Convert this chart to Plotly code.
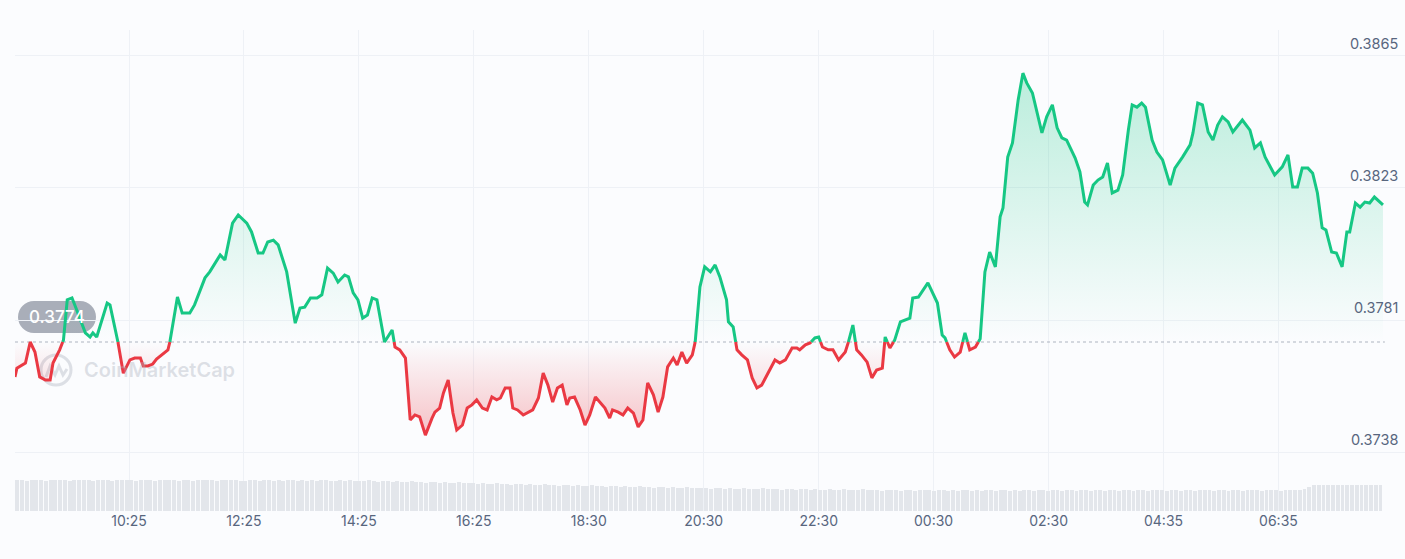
import plotly.graph_objects as go

# ---------------- data ----------------
minutes = [0,2,11,16,21,26,32,37,40,47,51,55,60,65,74,79,82,86,97,100,
           108,114,121,126,132,135,140,145,149,156,161,163,171,176,184,189,200,205,216,221,
           229,235,244,249,256,261,266,272,277,286,295,300,305,311,318,323,329,335,340,347,
           351,356,361,366,371,376,381,389,397,400,405,411,416,421,426,432,439,442,447,451,
           456,461,465,471,476,481,486,492,497,502,507,511,516,521,524,529,535,540,545,551,
           556,561,566,571,576,581,584,589,595,600,605,611,616,621,626,629,635,640,645,651,
           656,661,666,672,677,682,687,693,697,702,707,713,716,721,726,732,737,742,749,751,
           756,760,765,771,776,781,786,793,800,805,811,818,823,826,832,837,842,846,850,856,
           861,867,874,877,882,886,891,897,902,907,913,916,921,926,932,937,942,945,951,961,
           971,976,979,984,989,995,1000,1005,1011,1016,1021,1026,1032,1037,1040,1045,1050,1056,1061,1065,
           1071,1081,1086,1092,1097,1102,1107,1116,1121,1126,1129,1135,1140,1145,1150,1155,1161,1166,1172,1176,
           1181,1186,1190,1197,1202,1208,1216,1221,1229,1237,1240,1245,1250,1256,1261,1266,1271,1277,1282,1292,
           1300,1305,1311,1316,1326,1334,1340,1345,1350,1355,1361,1366,1371,1376,1380,1386,1391,1397,1402,1405,
           1411,1416,1421,1426,1431,1440]

price = [0.37629,0.37657,0.37673,0.37740,0.37708,0.37629,0.37619,0.37619,0.37673,0.37715,
         0.37746,0.37874,0.37880,0.37842,0.37769,0.37756,0.37769,0.37756,0.37864,0.37858,
         0.37746,0.37641,0.37683,0.37689,0.37689,0.37664,0.37664,0.37670,0.37686,0.37702,
         0.37715,0.37740,0.37883,0.37832,0.37832,0.37858,0.37944,0.37963,0.38017,0.38001,
         0.38118,0.38144,0.38118,0.38090,0.38023,0.38023,0.38058,0.38064,0.38049,0.37963,
         0.37800,0.37848,0.37851,0.37880,0.37880,0.37890,0.37975,0.37959,0.37931,0.37953,
         0.37947,0.37896,0.37874,0.37816,0.37826,0.37880,0.37874,0.37740,0.37778,0.37724,
         0.37715,0.37689,0.37492,0.37508,0.37502,0.37444,0.37498,0.37517,0.37530,0.37578,
         0.37619,0.37514,0.37460,0.37476,0.37530,0.37540,0.37556,0.37530,0.37524,0.37565,
         0.37556,0.37562,0.37594,0.37594,0.37530,0.37524,0.37508,0.37517,0.37524,0.37562,
         0.37641,0.37603,0.37549,0.37594,0.37603,0.37540,0.37562,0.37565,0.37524,0.37476,
         0.37508,0.37565,0.37549,0.37530,0.37498,0.37524,0.37517,0.37508,0.37530,0.37514,
         0.37470,0.37492,0.37610,0.37572,0.37517,0.37565,0.37661,0.37689,0.37667,0.37708,
         0.37673,0.37699,0.37740,0.37915,0.37979,0.37963,0.37985,0.37947,0.37874,0.37804,
         0.37788,0.37715,0.37699,0.37683,0.37626,0.37594,0.37603,0.37641,0.37683,0.37673,
         0.37683,0.37721,0.37721,0.37715,0.37731,0.37737,0.37753,0.37756,0.37724,0.37715,
         0.37715,0.37683,0.37708,0.37737,0.37794,0.37715,0.37699,0.37676,0.37626,0.37651,
         0.37657,0.37756,0.37721,0.37746,0.37804,0.37810,0.37816,0.37880,0.37883,0.37928,
         0.37864,0.37762,0.37753,0.37715,0.37692,0.37708,0.37769,0.37715,0.37724,0.37750,
         0.37963,0.38026,0.37979,0.38138,0.38166,0.38328,0.38373,0.38510,0.38595,0.38564,
         0.38532,0.38405,0.38456,0.38494,0.38421,0.38389,0.38382,0.38325,0.38281,0.38185,
         0.38176,0.38239,0.38255,0.38265,0.38309,0.38214,0.38223,0.38271,0.38414,0.38494,
         0.38487,0.38500,0.38487,0.38382,0.38344,0.38319,0.38239,0.38293,0.38328,0.38367,
         0.38405,0.38500,0.38494,0.38408,0.38382,0.38430,0.38456,0.38440,0.38408,0.38446,
         0.38414,0.38357,0.38373,0.38328,0.38271,0.38297,0.38335,0.38233,0.38233,0.38293,
         0.38293,0.38277,0.38214,0.38103,0.38096,0.38026,0.38023,0.37979,0.38090,0.38090,
         0.38182,0.38169,0.38185,0.38182,0.38201,0.38176]

base_price = 0.3774
base_label = "0.3774"

y_tick_values = [0.3739, 0.3781, 0.3823, 0.3865]
y_tick_labels = ["0.3738", "0.3781", "0.3823", "0.3865"]

x_tick_values = [120, 241, 362, 483, 604, 725, 846, 967, 1088, 1209, 1330]
x_tick_labels = ["10:25", "12:25", "14:25", "16:25", "18:30", "20:30",
                 "22:30", "00:30", "02:30", "04:35", "06:35"]

volume = [31,31,30,31,31,31,30,31,31,31,31,30,31,31,31,31,30,31,31,31,30,31,31,31,
          31,30,31,31,31,30,31,31,31,31,30,31,31,30,31,31,31,31,30,31,31,31,31,30,
          30,31,31,30,31,31,30,31,30,31,31,30,31,30,31,30,31,31,30,30,31,30,31,30,
          30,30,31,30,29,30,30,29,30,29,29,30,29,29,28,29,29,28,29,28,28,29,28,28,
          28,27,28,27,27,28,27,27,26,27,27,26,27,26,26,27,26,26,25,26,26,25,26,25,
          25,26,25,25,24,25,25,24,25,24,24,25,24,24,23,24,24,23,24,23,23,24,23,23,
          23,23,22,23,23,22,23,22,22,23,22,22,22,23,22,22,22,21,22,22,21,22,22,21,
          22,21,21,22,21,21,22,21,21,21,22,21,21,21,20,21,21,21,20,21,21,20,21,21,
          21,20,21,21,20,21,20,21,21,20,21,20,21,21,20,21,21,20,21,20,21,21,20,21,
          21,20,21,21,20,21,21,20,21,21,20,21,21,20,21,21,20,21,21,20,21,21,20,21,
          21,21,20,21,21,20,21,21,20,21,21,21,20,21,21,20,21,21,20,21,21,21,20,21,
          21,21,20,21,21,21,21,22,24,26,26,26,26,26,26,26,26,26,26,26,26,26,26,26]

# ---------------- styling constants ----------------
GREEN = "#16C784"
RED = "#EA3943"
BG = "#FBFCFE"
GRID = "#EEF1F6"
LABEL = "#58667E"
FONT = "Inter"

W, H = 1405, 559
ML, MR, MT, MB = 15, 0, 30, 48
PW, PH = W - ML - MR, H - MT - MB
X_RANGE = [0, 1463.2]
Y_RANGE = [0.372026, 0.387322]


def px_x(p):
    return (p - ML) / PW


def px_y(p):
    return (H - MB - p) / PH


# split series at the baseline so the line can change colour there
xs, ys = [], []
n = min(len(minutes), len(price))
for i in range(n):
    if i > 0:
        p0, p1 = price[i - 1], price[i]
        if (p0 - base_price) * (p1 - base_price) < 0:
            t = (base_price - p0) / (p1 - p0)
            xs.append(minutes[i - 1] + t * (minutes[i] - minutes[i - 1]))
            ys.append(base_price)
    xs.append(minutes[i])
    ys.append(price[i])

up_fill = [max(v, base_price) for v in ys]
dn_fill = [min(v, base_price) for v in ys]
up_line = [v if v >= base_price else None for v in ys]
dn_line = [v if v <= base_price else None for v in ys]
base_line = [base_price] * len(xs)

fig = go.Figure()

# green area
fig.add_trace(go.Scatter(x=xs, y=base_line, mode="lines", line=dict(width=0),
                         hoverinfo="skip", showlegend=False))
fig.add_trace(go.Scatter(
    x=xs, y=up_fill, mode="lines", line=dict(width=0), fill="tonexty",
    fillgradient=dict(type="vertical",
                      colorscale=[[0, "rgba(22,199,132,0.0)"], [1, "rgba(22,199,132,0.28)"]],
                      start=base_price, stop=max(price)),
    hoverinfo="skip", showlegend=False))
# red area
fig.add_trace(go.Scatter(x=xs, y=base_line, mode="lines", line=dict(width=0),
                         hoverinfo="skip", showlegend=False))
fig.add_trace(go.Scatter(
    x=xs, y=dn_fill, mode="lines", line=dict(width=0), fill="tonexty",
    fillgradient=dict(type="vertical",
                      colorscale=[[0, "rgba(234,57,67,0.0)"], [1, "rgba(234,57,67,0.30)"]],
                      start=base_price, stop=min(price)),
    hoverinfo="skip", showlegend=False))
# lines
fig.add_trace(go.Scatter(x=xs, y=up_line, mode="lines",
                         line=dict(color=GREEN, width=3), connectgaps=False,
                         hoverinfo="skip", showlegend=False))
fig.add_trace(go.Scatter(x=xs, y=dn_line, mode="lines",
                         line=dict(color=RED, width=3), connectgaps=False,
                         hoverinfo="skip", showlegend=False))
# volume strip
fig.add_trace(go.Bar(x=[5 * i + 2.5 for i in range(len(volume))], y=volume, width=4,
                     marker=dict(color="#E3E6EB", line=dict(width=0)),
                     yaxis="y2", hoverinfo="skip", showlegend=False))

shapes = []
# dotted baseline
shapes.append(dict(type="line", xref="x", yref="y", x0=0, x1=1442,
                   y0=base_price, y1=base_price,
                   line=dict(color="#AEB4BF", width=1.2, dash="dot"), layer="between"))

# pill badge for the opening price
bx0, bx1, by0, by1 = 18, 96, 301, 333
r = (by1 - by0) / 2
k = 0.5523 * r


def P(x, y):
    return f"{px_x(x):.6f},{px_y(y):.6f}"


path = (f"M{P(bx0 + r, by0)} L{P(bx1 - r, by0)} "
        f"C{P(bx1 - r + k, by0)} {P(bx1, by0 + r - k)} {P(bx1, by0 + r)} "
        f"C{P(bx1, by1 - r + k)} {P(bx1 - r + k, by1)} {P(bx1 - r, by1)} "
        f"L{P(bx0 + r, by1)} "
        f"C{P(bx0 + r - k, by1)} {P(bx0, by1 - r + k)} {P(bx0, by1 - r)} "
        f"C{P(bx0, by0 + r - k)} {P(bx0 + r - k, by0)} {P(bx0 + r, by0)} Z")
shapes.append(dict(type="path", xref="paper", yref="paper", path=path,
                   fillcolor="#A9AEB9", line=dict(width=0), layer="between"))

# watermark logo
WM = "rgba(170,176,188,0.38)"
shapes.append(dict(type="circle", xref="paper", yref="paper",
                   x0=px_x(41), x1=px_x(71), y0=px_y(385), y1=px_y(355),
                   line=dict(color=WM, width=3), layer="between"))
wave = (f"M{P(46, 377)} L{P(50, 366)} L{P(55, 375)} L{P(59, 366)} "
        f"L{P(63, 375)} L{P(67, 369)}")
shapes.append(dict(type="path", xref="paper", yref="paper", path=wave,
                   line=dict(color=WM, width=3), layer="between"))

annotations = []
annotations.append(dict(xref="paper", yref="paper", x=px_x(57), y=px_y(317),
                        text=base_label, showarrow=False, xanchor="center", yanchor="middle",
                        font=dict(family=FONT, size=17, color="white", weight=500)))
annotations.append(dict(xref="paper", yref="paper", x=px_x(82), y=px_y(370),
                        text="CoinMarketCap", showarrow=False, xanchor="left", yanchor="middle",
                        font=dict(family=FONT, size=20, color=WM, weight=600)))
for v, t in zip(y_tick_values, y_tick_labels):
    annotations.append(dict(xref="paper", yref="y", x=1, y=v, text=t, showarrow=False,
                            xanchor="right", yanchor="bottom", xshift=-5, yshift=2,
                            font=dict(family=FONT, size=14.5, color=LABEL)))

fig.update_layout(
    width=W, height=H, autosize=False,
    margin=dict(l=ML, r=MR, t=MT, b=MB, pad=0),
    paper_bgcolor=BG, plot_bgcolor=BG,
    showlegend=False, hovermode=False, bargap=0,
    xaxis=dict(range=X_RANGE, tickmode="array", tickvals=x_tick_values, ticktext=x_tick_labels,
               showgrid=True, gridcolor=GRID, gridwidth=1, zeroline=False, showline=False,
               ticks="", tickfont=dict(family=FONT, size=14, color=LABEL), fixedrange=True),
    yaxis=dict(range=Y_RANGE, tickmode="array", tickvals=y_tick_values,
               showticklabels=False, showgrid=True, gridcolor=GRID, gridwidth=1,
               zeroline=False, showline=False, ticks="", domain=[0, 1], fixedrange=True),
    yaxis2=dict(range=[0, 32], domain=[0, 0.066], anchor="x", showgrid=False,
                showticklabels=False, zeroline=False, showline=False, fixedrange=True),
    shapes=shapes, annotations=annotations,
    font=dict(family=FONT),
)

fig.write_html("out.html")
